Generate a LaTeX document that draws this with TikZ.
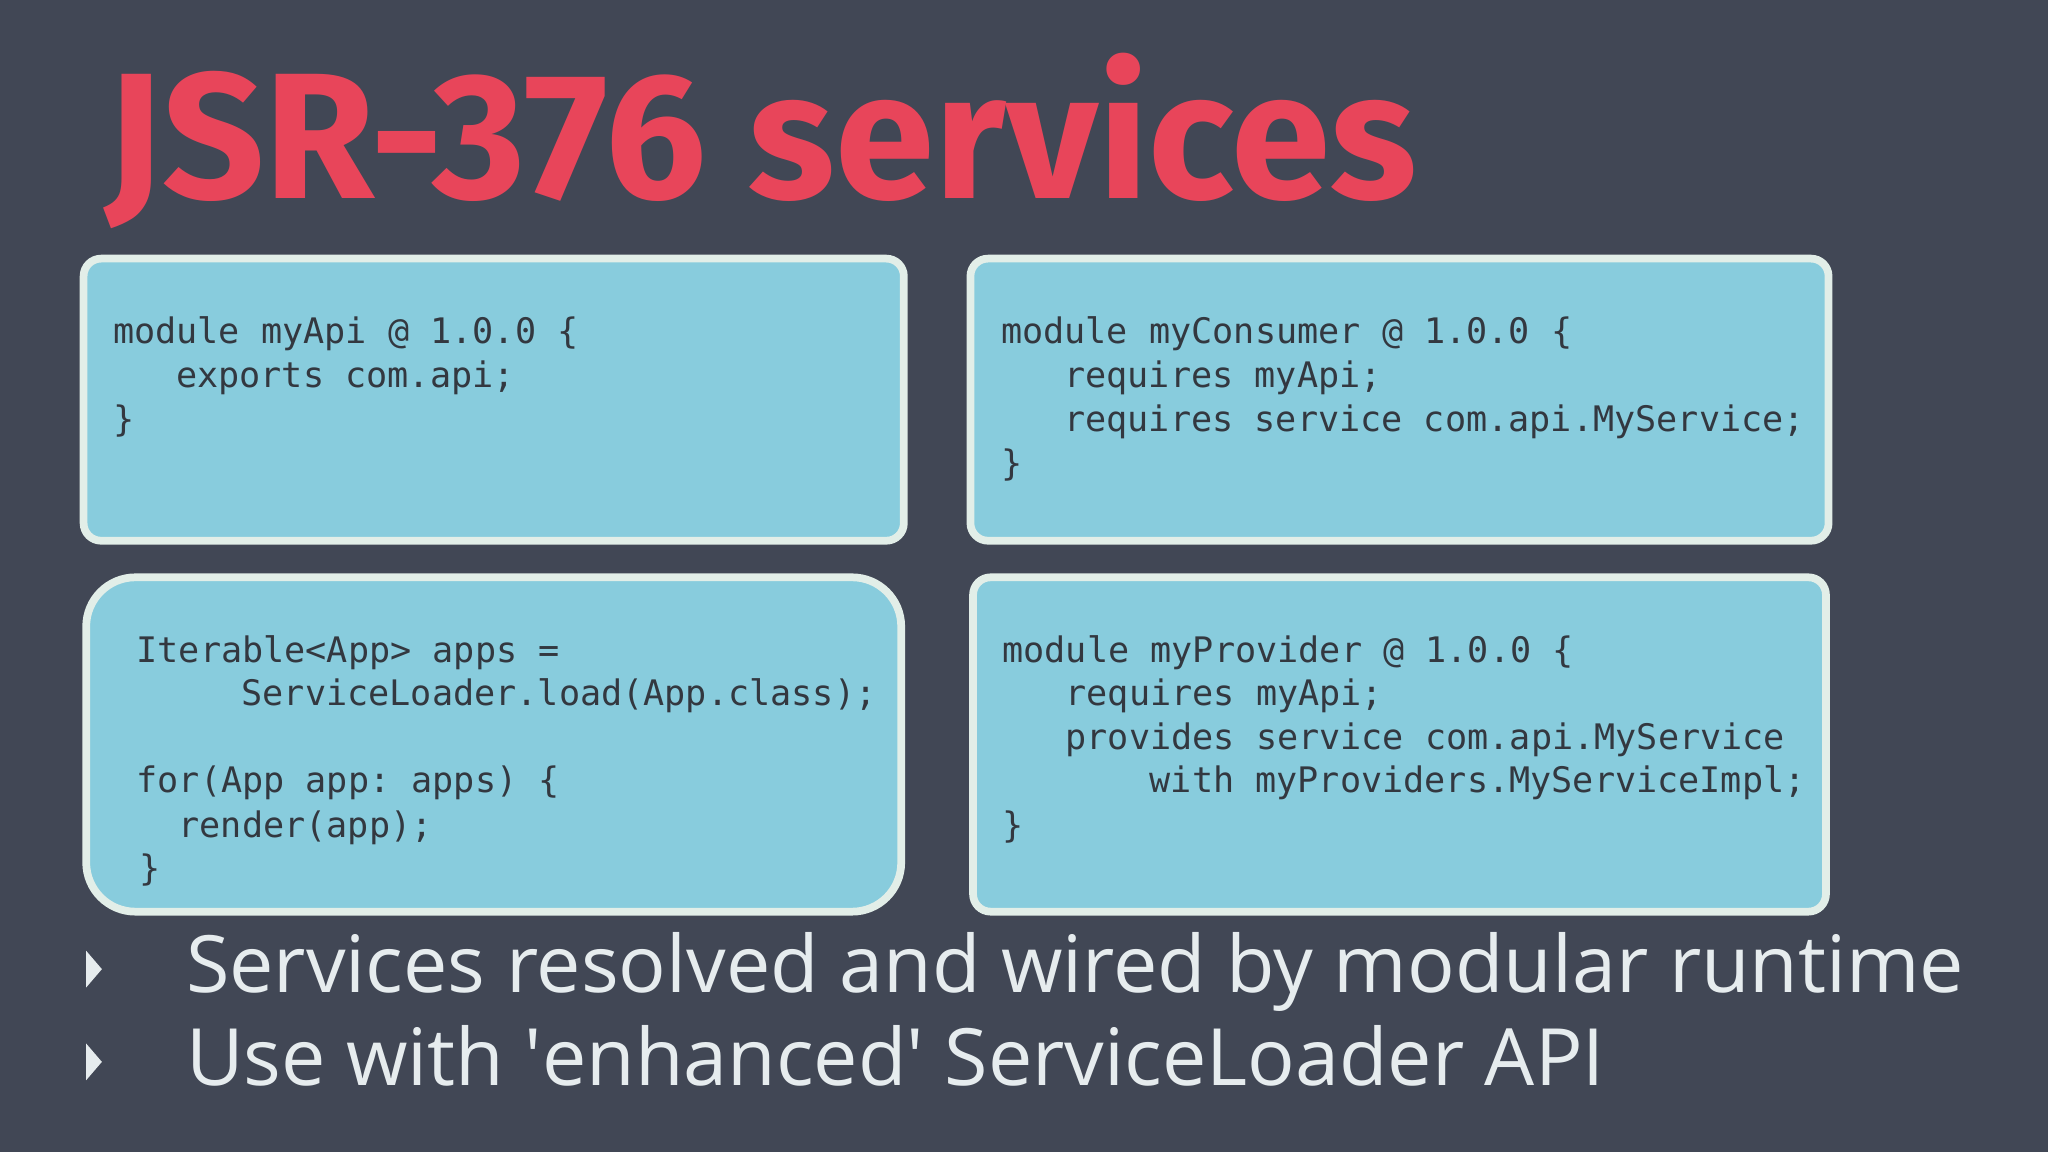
\documentclass[tikz,border=0pt]{standalone}
\usepackage{fontspec}
\setmainfont{Open Sans}
\newfontfamily\titlefont{Fira Sans}
\setmonofont{DejaVu Sans Mono}
\begin{document}
\definecolor{bg}{HTML}{414755}
\definecolor{titlered}{HTML}{E8455A}
\definecolor{boxfill}{HTML}{88CCDD}
\definecolor{boxedge}{HTML}{E2EEE8}
\definecolor{codecol}{HTML}{333840}
\definecolor{bullettext}{HTML}{E6ECEE}
\begin{tikzpicture}[x=0.01306cm,y=-0.01306cm,
  box/.style={fill=boxfill,draw=boxedge,line width=2.2pt,rounded corners=5pt},
  roundbox/.style={box,rounded corners=14pt},
  code/.style={anchor=base west,inner sep=0pt,text=codecol,font=\fontsize{10}{12}\ttfamily},
  bullet/.style={anchor=base west,inner sep=0pt,text=bullettext,font=\fontsize{22.5}{26}\selectfont},
  tri/.style={fill=bullettext,draw=none}]
\fill[bg] (0,0) rectangle (1568,882);
\node[anchor=base west,inner sep=0pt,text=titlered,font=\titlefont\bfseries\fontsize{51}{56}\selectfont] (title) at (80,152) {JSR-376 services};
\def\cw{16.1}
% box 1
\draw[box] (64,198) rectangle (692,414);
\node[code] (a1) at (86,263) {module myApi @ 1.0.0 \{};
\node[code] (a2) at (86+3*\cw,297) {exports com.api;};
\node[code] (a3) at (86,330) {\}};
% box 2
\draw[box] (743,198) rectangle (1400,414);
\node[code] (b1) at (766,263) {module myConsumer @ 1.0.0 \{};
\node[code] (b2) at (766+3*\cw,297) {requires myApi;};
\node[code] (b3) at (766+3*\cw,330) {requires service com.api.MyService;};
\node[code] (b4) at (766,364) {\}};
% box 3
\draw[roundbox] (66,442) rectangle (690,698);
\node[code] (c1) at (104,507) {Iterable<App> apps =};
\node[code] (c2) at (104+5*\cw,540) {ServiceLoader.load(App.class);};
\node[code] (c3) at (104,607) {for(App app: apps) \{};
\node[code] (c4) at (104+2*\cw,641) {render(app);};
\node[code] (c5) at (106,674) {\}};
% box 4
\draw[box] (745,442) rectangle (1398,698);
\node[code] (d1) at (767,507) {module myProvider @ 1.0.0 \{};
\node[code] (d2) at (767+3*\cw,540) {requires myApi;};
\node[code] (d3) at (767+3*\cw,574) {provides service com.api.MyService};
\node[code] (d4) at (767+7*\cw,607) {with myProviders.MyServiceImpl;};
\node[code] (d5) at (767,641) {\}};
% bullets
\fill[tri] (66,728) -- (78,742) -- (66,756) -- cycle;
\fill[tri] (66,799) -- (78,813) -- (66,827) -- cycle;
\node[bullet] (t1) at (142,760) {Services resolved and wired by modular runtime};
\node[bullet] (t2) at (142,831) {Use with \textquotesingle enhanced\textquotesingle\ ServiceLoader API};
\end{tikzpicture}
\end{document}
